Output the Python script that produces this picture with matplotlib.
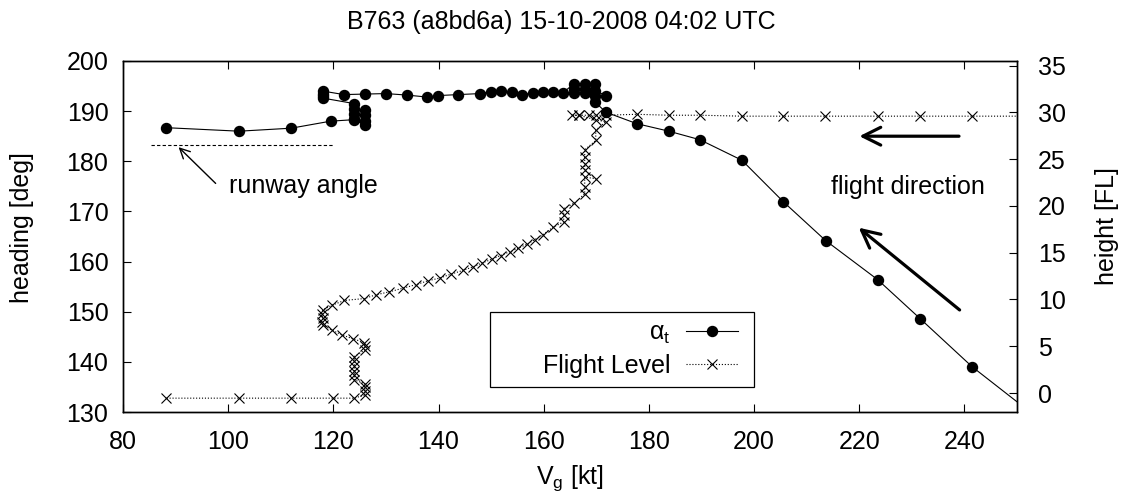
import matplotlib
matplotlib.use("Agg")
import matplotlib.pyplot as plt
from matplotlib.patches import Rectangle

plt.rcParams['font.family'] = ['Liberation Sans', 'DejaVu Sans']
plt.rcParams['mathtext.fontset'] = 'custom'
plt.rcParams['mathtext.rm'] = 'Liberation Sans'
plt.rcParams['mathtext.it'] = 'Liberation Sans'

# ground speed [kt] / heading [deg] for the alpha_t series
speed_alpha = [252.0, 241.5, 231.6, 223.5, 213.6, 205.6, 197.7, 189.7, 183.8, 177.7,
               171.8, 169.8, 169.8, 171.8, 169.8, 169.8, 167.8, 167.8, 167.8, 165.8,
               165.8, 165.8, 163.7, 161.8, 159.8, 157.9, 155.8, 153.9, 151.9, 150.0,
               147.9, 143.8, 139.9, 137.9, 134.0, 130.0, 126.0, 122.0, 118.0, 118.0,
               118.0, 118.0, 124.0, 124.0, 126.0, 126.0, 124.0, 124.0, 126.0, 126.0,
               124.0, 119.5, 112.0, 102.1, 88.2]
heading = [130.4, 139.0, 148.6, 156.4, 164.2, 171.9, 180.2, 184.3, 186.0, 187.5,
           189.8, 191.8, 193.1, 193.1, 194.1, 195.5, 195.4, 194.5, 193.7, 193.7,
           194.5, 195.5, 193.7, 193.9, 193.9, 193.7, 193.2, 193.8, 194.0, 193.9,
           193.5, 193.3, 193.1, 192.8, 193.2, 193.5, 193.4, 193.3, 194.0, 193.5,
           193.0, 192.6, 191.5, 190.5, 190.2, 189.2, 189.5, 188.5, 188.0, 187.2,
           188.3, 188.0, 186.6, 186.0, 186.7]

# ground speed [kt] / flight level for the FL series
speed_fl = [252.0, 241.5, 231.6, 223.5, 213.5, 205.6, 197.7, 189.7, 183.8, 177.7,
            171.8, 169.9, 168.6, 166.7, 165.3, 166.7, 169.9, 171.8, 169.9, 169.9,
            167.8, 167.8, 167.8, 167.8, 169.9, 167.8, 167.8, 167.8, 165.8, 163.8,
            163.8, 163.8, 161.7, 159.8, 158.3, 156.8, 155.2, 153.5, 151.8, 150.1,
            148.3, 146.6, 144.6, 142.3, 140.3, 138.0, 135.8, 133.2, 130.5, 128.1,
            125.9, 122.1, 119.8, 118.0, 117.8, 118.0, 117.8, 118.0, 119.8, 121.7,
            123.7, 125.9, 126.0, 126.0, 124.0, 124.0, 124.0, 124.0, 124.0, 124.0,
            126.0, 126.0, 126.0, 126.0, 124.0, 120.0, 111.9, 102.1, 88.2]
flight_level = [29.6, 29.6, 29.6, 29.6, 29.6, 29.6, 29.6, 29.7, 29.7, 29.8,
                29.7, 29.7, 29.7, 29.7, 29.7, 29.7, 29.2, 29.0, 28.1, 27.0,
                26.0, 25.2, 24.5, 23.8, 22.9, 23.1, 22.0, 21.3, 20.3, 19.7,
                19.0, 18.3, 17.7, 16.9, 16.4, 15.9, 15.5, 15.1, 14.7, 14.3,
                13.9, 13.5, 13.1, 12.7, 12.3, 12.0, 11.6, 11.2, 10.8, 10.5,
                10.1, 9.9, 9.4, 8.9, 8.4, 8.0, 7.6, 7.3, 6.7, 6.2,
                5.8, 5.4, 5.0, 4.6, 3.9, 3.4, 2.9, 2.4, 1.9, 1.4,
                1.0, 0.6, 0.2, -0.2, -0.55, -0.55, -0.55, -0.55, -0.55]

runway_speed = [85.3, 120.0]
runway_heading = [183.2, 183.2]

fig = plt.figure(figsize=(11.23, 4.93), dpi=100)
ax = fig.add_axes([0.1095, 0.1643, 0.7961, 0.712])
ax2 = ax.twinx()

h1, = ax.plot(speed_alpha, heading, '-', color='black', lw=0.8,
              marker='o', ms=7.2, label=r'$\alpha_\mathrm{t}$')
h2, = ax2.plot(speed_fl, flight_level, ':', color='black', lw=0.8,
               marker='x', ms=7, mew=0.8, label='Flight Level')
ax.plot(runway_speed, runway_heading, '--', color='black', lw=0.8,
        dashes=(3, 2))

ax.set_xlim(80, 250)
ax.set_ylim(130, 200)
ax2.set_ylim(-2.03, 35.5)
ax.set_xticks(range(80, 241, 20))
ax.set_yticks(range(130, 201, 10))
ax2.set_yticks(range(0, 36, 5))

fs = 18
ax.tick_params(axis='x', direction='in', top=True, length=6, labelsize=fs, pad=13)
ax.tick_params(axis='y', direction='in', right=False, length=6, labelsize=fs, pad=10.5)
ax2.tick_params(axis='y', direction='in', length=6, labelsize=fs, pad=15)
for a in (ax, ax2):
    for s in a.spines.values():
        s.set_linewidth(1.0)

ax.set_xlabel(r'V$_\mathrm{g}$ [kt]', fontsize=fs)
ax.xaxis.set_label_coords(0.5, -0.145)
fig.text(22 / 1123, 1 - 228 / 493, 'heading [deg]', rotation=90,
         ha='center', va='center', fontsize=fs)
fig.text(1107 / 1123, 1 - 226 / 493, 'height [FL]', rotation=90,
         ha='center', va='center', fontsize=fs)
fig.text(0.5, 1 - 22 / 493, 'B763 (a8bd6a) 15-10-2008 04:02 UTC',
         ha='center', va='center', fontsize=fs)

# annotations
ax.annotate('', xy=(90.2, 183.2), xytext=(98.0, 175.2),
            arrowprops=dict(arrowstyle='->', color='black', lw=1.0,
                            mutation_scale=18))
ax.text(100.1, 175.0, 'runway angle', fontsize=fs, ha='left', va='center')
ax.text(214.7, 174.8, 'flight direction', fontsize=fs, ha='left', va='center')
ax.annotate('', xy=(219.5, 185.0), xytext=(239.5, 185.0),
            arrowprops=dict(arrowstyle='->', color='black', lw=2.3,
                            mutation_scale=32))
ax.annotate('', xy=(219.5, 167.1), xytext=(239.5, 150.0),
            arrowprops=dict(arrowstyle='->', color='black', lw=2.3,
                            mutation_scale=32))

# legend: gnuplot-like fixed box, text right aligned, samples on the right
ax2.add_patch(Rectangle((0.4105, 0.0712), 0.2955, 0.2137, transform=ax2.transAxes,
                        facecolor='white', edgecolor='black', lw=0.9, zorder=5))
leg = ax2.legend(handles=[h1, h2], loc='center right',
                 bbox_to_anchor=(0.688, 0.178), borderaxespad=0, borderpad=0,
                 markerfirst=False, fontsize=fs, handlelength=2.1,
                 handletextpad=0.6, labelspacing=0.3, frameon=False)
leg.set_zorder(6)

fig.savefig('out.png', dpi=100)
